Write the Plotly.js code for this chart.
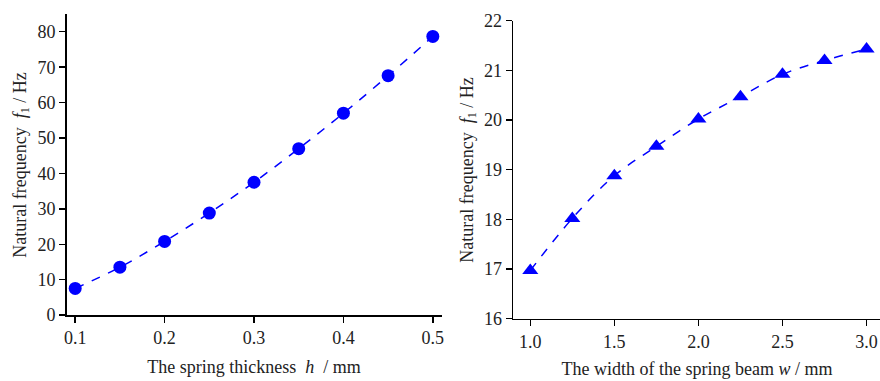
<!DOCTYPE html>
<html><head><meta charset="utf-8">
<script src="https://cdn.plot.ly/plotly-3.0.1.min.js"></script>
<style>
html,body{margin:0;padding:0;background:#fff}
.ttl{position:absolute;font-family:'Liberation Serif',serif;font-size:18px;color:#222;white-space:pre;line-height:1;transform:translate(-50%,-50%)}
.ttl.rot{transform:translate(-50%,-50%) rotate(-90deg)}
.ttl sub{font-size:12px;vertical-align:-3px;line-height:0}
</style>
</head><body>
<div id="chart" style="width:880px;height:381px"></div>
<div class="ttl" style="left:254px;top:367px">The spring thickness  <i>h</i>  / mm</div>
<div class="ttl" style="left:697px;top:369px">The width of the spring beam <i>w</i> / mm</div>
<div class="ttl rot" style="left:20px;top:165px">Natural frequency  <i>f</i><sub>1</sub> / Hz</div>
<div class="ttl rot" style="left:467px;top:170px">Natural frequency  <i>f</i><sub>1</sub> / Hz</div>
<script>
const thickness = [0.1, 0.15, 0.2, 0.25, 0.3, 0.35, 0.4, 0.45, 0.5];
const freqThickness = [7.5, 13.5, 20.8, 28.8, 37.5, 47.0, 57.0, 67.6, 78.7];
const beamWidth = [1.0, 1.25, 1.5, 1.75, 2.0, 2.25, 2.5, 2.75, 3.0];
const freqWidth = [16.97, 18.02, 18.88, 19.47, 20.02, 20.47, 20.92, 21.2, 21.43];

function mkFont(sz) { return {family: 'Liberation Serif', size: sz, color: '#222'}; }
const blue = '#0000ff';

const traces = [
  {x: thickness, y: freqThickness, xaxis: 'x', yaxis: 'y', mode: 'lines+markers',
   line: {color: blue, dash: 'dash', width: 1.5, shape: 'spline'},
   marker: {symbol: 'circle', size: 13, color: blue}},
  {x: beamWidth, y: freqWidth, xaxis: 'x2', yaxis: 'y2', mode: 'lines+markers',
   line: {color: blue, dash: 'dash', width: 1.5, shape: 'spline'},
   marker: {symbol: 'triangle-up', size: 14, color: blue}}
];

function ax(extra) {
  return Object.assign({
    showgrid: false, zeroline: false, showline: true, linecolor: '#000', linewidth: 1.6,
    ticks: 'outside', ticklen: 6, tickwidth: 1.4, tickcolor: '#000', automargin: false,
    tickfont: mkFont(18), mirror: false
  }, extra);
}

const layout = {
  width: 880, height: 381, margin: {l: 0, r: 0, t: 0, b: 0},
  paper_bgcolor: '#fff', plot_bgcolor: '#fff', showlegend: false, font: mkFont(18),
  xaxis: ax({domain: [0.0758, 0.502], range: [0.0905, 0.51], dtick: 0.1, tick0: 0.1, tickformat: '.1f', anchor: 'y'}),
  yaxis: ax({domain: [0.1732, 0.963], range: [0, 85], dtick: 10, tick0: 0, anchor: 'x'}),
  xaxis2: ax({domain: [0.5833, 1.0], range: [0.899, 3.08], dtick: 0.5, tick0: 1.0, tickformat: '.1f', anchor: 'y2'}),
  yaxis2: ax({domain: [0.1635, 0.9457], range: [16, 22], dtick: 1, tick0: 16, anchor: 'x2'})
};

Plotly.newPlot('chart', traces, layout, {displayModeBar: false, staticPlot: true}).then(gd => {
  document.body.setAttribute('data-rendered', '1');
});
</script>
</body></html>
